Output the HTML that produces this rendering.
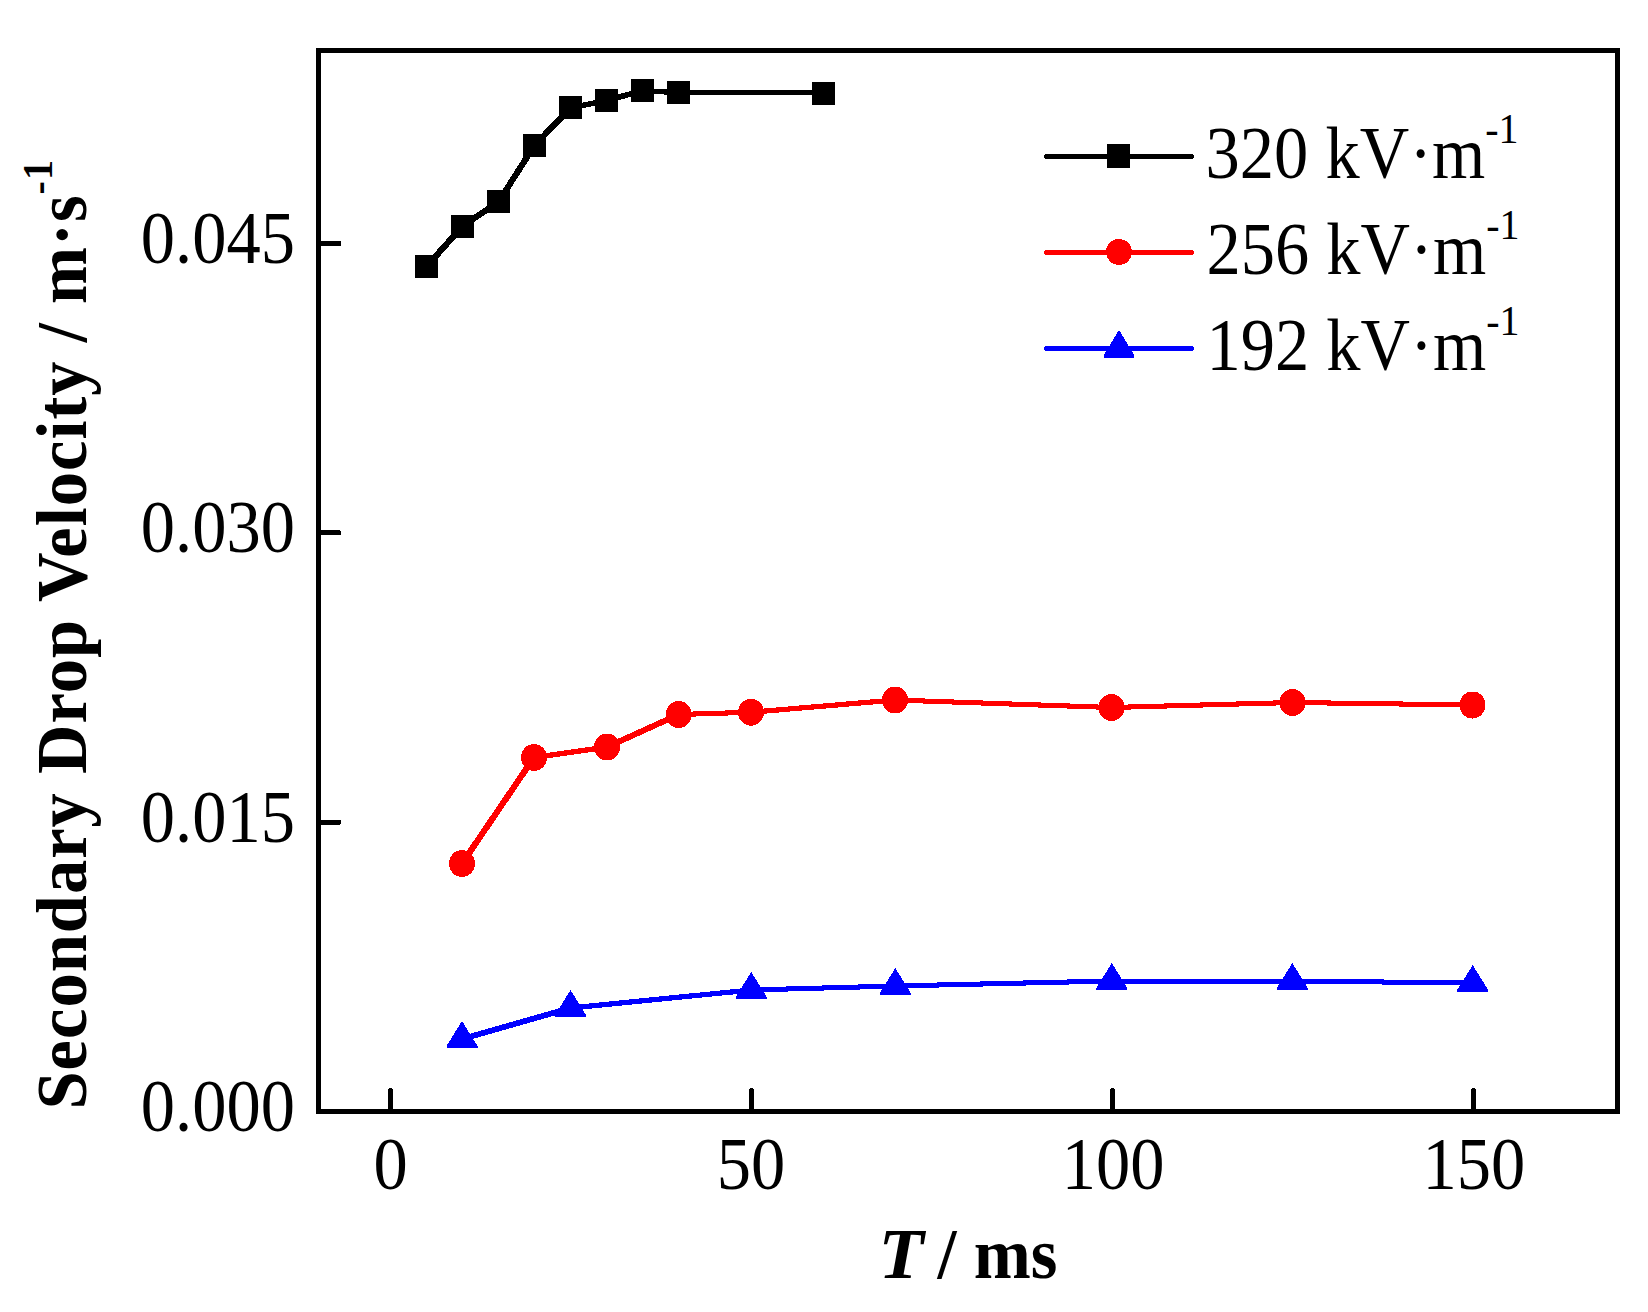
<!DOCTYPE html>
<html lang="en"><head><meta charset="utf-8"><title>Secondary Drop Velocity</title>
<style>
html,body{margin:0;padding:0;background:#fff;}
body{width:1648px;height:1312px;overflow:hidden;}
svg{display:block;}
text{font-family:"Liberation Serif",serif;fill:#000;}
.b{font-weight:bold;}
</style></head><body>
<svg width="1648" height="1312" viewBox="0 0 1648 1312" shape-rendering="crispEdges">
<rect width="1648" height="1312" fill="#fff"/>
<rect x="318.5" y="50.5" width="1299" height="1061" fill="none" stroke="#000" stroke-width="5"/>
<g stroke="#000" stroke-width="5" stroke-linecap="round">
<line x1="390.50" y1="1109" x2="390.50" y2="1090.5"/>
<line x1="751.50" y1="1109" x2="751.50" y2="1090.5"/>
<line x1="1112.50" y1="1109" x2="1112.50" y2="1090.5"/>
<line x1="1473.50" y1="1109" x2="1473.50" y2="1090.5"/>
<line x1="321" y1="822.17" x2="339" y2="822.17"/>
<line x1="321" y1="532.84" x2="339" y2="532.84"/>
<line x1="321" y1="243.51" x2="339" y2="243.51"/>
</g>
<g stroke="#000" fill="none" stroke-linecap="round"><line x1="426.50" y1="266.50" x2="462.50" y2="226.25" stroke-width="6.29"/><line x1="462.50" y1="226.25" x2="498.50" y2="201.75" stroke-width="6.21"/><line x1="498.50" y1="201.75" x2="534.50" y2="145.50" stroke-width="6.18"/><line x1="534.50" y1="145.50" x2="570.50" y2="107.75" stroke-width="6.30"/><line x1="570.50" y1="107.75" x2="606.50" y2="100.50" stroke-width="5.50"/><line x1="606.50" y1="100.50" x2="642.50" y2="90.75" stroke-width="5.66"/><line x1="642.50" y1="90.75" x2="678.50" y2="92.75" stroke-width="5.14"/><line x1="678.50" y1="92.75" x2="823.00" y2="93.00" stroke-width="5.00"/></g>
<g fill="#000"><rect x="415.00" y="255.00" width="23" height="23"/><rect x="451.00" y="214.75" width="23" height="23"/><rect x="487.00" y="190.25" width="23" height="23"/><rect x="523.00" y="134.00" width="23" height="23"/><rect x="559.00" y="96.25" width="23" height="23"/><rect x="595.00" y="89.00" width="23" height="23"/><rect x="631.00" y="79.25" width="23" height="23"/><rect x="667.00" y="81.25" width="23" height="23"/><rect x="811.50" y="81.50" width="23" height="23"/></g>
<g stroke="#f00" fill="none" stroke-linecap="round"><line x1="462.00" y1="863.50" x2="534.00" y2="757.50" stroke-width="6.21"/><line x1="534.00" y1="757.50" x2="607.00" y2="747.00" stroke-width="5.37"/><line x1="607.00" y1="747.00" x2="678.75" y2="714.50" stroke-width="5.98"/><line x1="678.75" y1="714.50" x2="751.00" y2="712.25" stroke-width="5.08"/><line x1="751.00" y1="712.25" x2="895.00" y2="700.00" stroke-width="5.22"/><line x1="895.00" y1="700.00" x2="1111.50" y2="707.50" stroke-width="5.09"/><line x1="1111.50" y1="707.50" x2="1292.50" y2="702.50" stroke-width="5.07"/><line x1="1292.50" y1="702.50" x2="1472.50" y2="705.00" stroke-width="5.04"/></g>
<g fill="#f00"><ellipse cx="462.00" cy="863.50" rx="13" ry="13.5"/><ellipse cx="534.00" cy="757.50" rx="13" ry="13.5"/><ellipse cx="607.00" cy="747.00" rx="13" ry="13.5"/><ellipse cx="678.75" cy="714.50" rx="13" ry="13.5"/><ellipse cx="751.00" cy="712.25" rx="13" ry="13.5"/><ellipse cx="895.00" cy="700.00" rx="13" ry="13.5"/><ellipse cx="1111.50" cy="707.50" rx="13" ry="13.5"/><ellipse cx="1292.50" cy="702.50" rx="13" ry="13.5"/><ellipse cx="1472.50" cy="705.00" rx="13" ry="13.5"/></g>
<g stroke="#00f" fill="none" stroke-linecap="round"><line x1="462.00" y1="1039.00" x2="570.50" y2="1008.00" stroke-width="5.69"/><line x1="570.50" y1="1008.00" x2="751.25" y2="990.00" stroke-width="5.26"/><line x1="751.25" y1="990.00" x2="895.30" y2="986.00" stroke-width="5.07"/><line x1="895.30" y1="986.00" x2="1111.80" y2="981.00" stroke-width="5.06"/><line x1="1111.80" y1="981.00" x2="1292.30" y2="981.00" stroke-width="5.00"/><line x1="1292.30" y1="981.00" x2="1472.70" y2="983.00" stroke-width="5.03"/></g>
<g fill="#00f"><path d="M462.00 1021.00 L477.50 1046.00 V1048.00 H446.50 V1046.00 Z"/><path d="M570.50 990.00 L586.00 1015.00 V1017.00 H555.00 V1015.00 Z"/><path d="M751.25 972.00 L766.75 997.00 V999.00 H735.75 V997.00 Z"/><path d="M895.30 968.00 L910.80 993.00 V995.00 H879.80 V993.00 Z"/><path d="M1111.80 963.00 L1127.30 988.00 V990.00 H1096.30 V988.00 Z"/><path d="M1292.30 963.00 L1307.80 988.00 V990.00 H1276.80 V988.00 Z"/><path d="M1472.70 965.00 L1488.20 990.00 V992.00 H1457.20 V990.00 Z"/></g>
<line x1="1046.5" y1="156.5" x2="1191.5" y2="156.5" stroke="#000" stroke-width="5" stroke-linecap="round"/>
<rect x="1107" y="144" width="23" height="24" fill="#000"/>
<text transform="translate(1205.60,178.40) scale(1,1.067)" font-size="68.5">320 kV·m<tspan font-size="40" dy="-32.9">-1</tspan></text>
<line x1="1046.5" y1="252.5" x2="1191.5" y2="252.5" stroke="#f00" stroke-width="5" stroke-linecap="round"/>
<ellipse cx="1119" cy="252" rx="13" ry="13" fill="#f00"/>
<text transform="translate(1206.50,274.40) scale(1,1.067)" font-size="68.5">256 kV·m<tspan font-size="40" dy="-32.9">-1</tspan></text>
<line x1="1046.5" y1="348.5" x2="1191.5" y2="348.5" stroke="#00f" stroke-width="5" stroke-linecap="round"/>
<path fill="#00f" d="M1119 330 L1134 354.5 V358 H1104 V354.5 Z"/>
<text transform="translate(1206.50,370.40) scale(1,1.067)" font-size="68.5">192 kV·m<tspan font-size="40" dy="-32.9">-1</tspan></text>
<text transform="translate(295.00,1131.10) scale(1,1.067)" font-size="68.5" text-anchor="end">0.000</text>
<text transform="translate(295.00,841.77) scale(1,1.067)" font-size="68.5" text-anchor="end">0.015</text>
<text transform="translate(295.00,552.44) scale(1,1.067)" font-size="68.5" text-anchor="end">0.030</text>
<text transform="translate(295.00,263.11) scale(1,1.067)" font-size="68.5" text-anchor="end">0.045</text>
<text transform="translate(390.50,1188.80) scale(1,1.067)" font-size="68.5" text-anchor="middle">0</text>
<text transform="translate(751.00,1188.80) scale(1,1.067)" font-size="68.5" text-anchor="middle">50</text>
<text transform="translate(1113.20,1188.80) scale(1,1.067)" font-size="68.5" text-anchor="middle">100</text>
<text transform="translate(1474.00,1188.80) scale(1,1.067)" font-size="68.5" text-anchor="middle">150</text>
<text font-style="italic" transform="translate(878.60,1277.80) scale(1.08,1.045)" font-size="68.5" class="b">T</text>
<text xml:space="preserve" transform="translate(937.60,1277.80) scale(1,1.045)" font-size="68.5" class="b">/ ms</text>
<text letter-spacing="1.03" transform="translate(85.80,1109.60) rotate(-90) scale(1,1.045)" font-size="68.5" class="b">Secondary Drop Velocity / m·s<tspan font-size="40" dy="-32">-1</tspan></text>
</svg></body></html>
